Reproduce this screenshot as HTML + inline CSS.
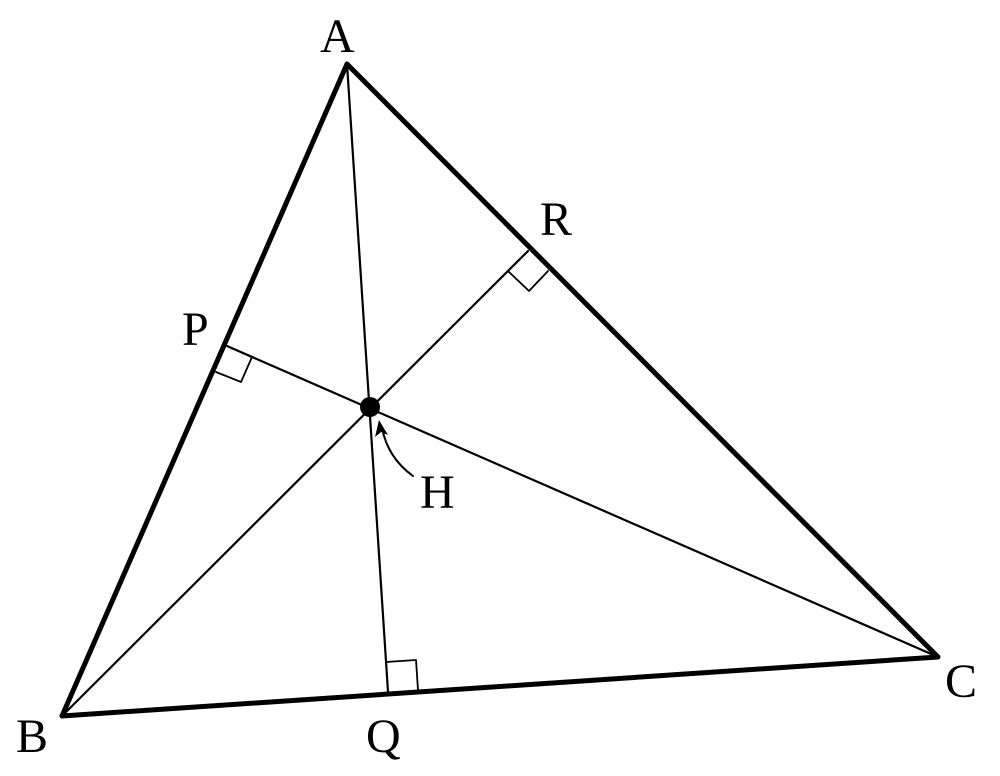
<!DOCTYPE html>
<html><head><style>html,body{margin:0;padding:0;background:#fff;}</style></head>
<body>
<svg width="1000" height="771" viewBox="0 0 1000 771" xmlns="http://www.w3.org/2000/svg">
<g stroke="#000" fill="none" stroke-linecap="round" stroke-linejoin="round">
<polygon points="347,64 62,716 938,657" stroke-width="5"/>
<line x1="347" y1="64" x2="388" y2="692" stroke-width="2.2"/>
<line x1="62" y1="716" x2="528" y2="251" stroke-width="2.2"/>
<line x1="938" y1="657" x2="227" y2="346" stroke-width="2.2"/>
<polyline points="216,372 241,382 252,357" stroke-width="1.8"/>
<polyline points="508,271 529,291 548,271" stroke-width="1.8"/>
<polyline points="386,662 416,660 418,690" stroke-width="1.8"/>
<path d="M413,476 Q388,458 382,428" stroke-width="2"/>
</g>
<polygon points="379,420 375,437 381,432 388,435" fill="#000"/>
<circle cx="370" cy="407" r="10" fill="#000"/>
<g font-family="Liberation Serif, serif" font-size="48" fill="#000">
<text x="320" y="52">A</text>
<text x="16" y="752">B</text>
<text x="945" y="697">C</text>
<text x="366" y="752">Q</text>
<text x="182" y="345">P</text>
<text x="540" y="235">R</text>
<text x="420" y="508">H</text>
</g>
</svg>
</body></html>
